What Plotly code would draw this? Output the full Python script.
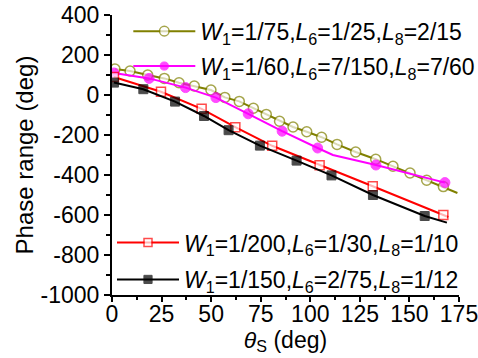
import plotly.graph_objects as go

# Olive: W1=1/75, L6=1/25, L8=2/15 (open circles); last point = line end without marker
olive_x = [1.5, 9.1, 18.0, 26.4, 33.8, 41.5, 49.9, 56.9, 64.2, 71.3, 77.8, 84.5, 91.3, 98.2,
           105.7, 113.5, 122.9, 133.0, 141.7, 150.3, 158.7, 167.1, 174.2]
olive_y = [130, 120, 100, 83, 61, 45, 25, -12, -32, -66, -97, -131, -160, -184,
           -211, -247, -285, -321, -356, -390, -426, -458, -490]
olive_m = [1]*22 + [0]

# Magenta: W1=1/60, L6=7/150, L8=7/60 (filled circles)
mag_x = [1.0, 18.7, 37.1, 52.4, 68.7, 85.8, 103.7, 111.4, 133.1, 150.3, 167.9]
mag_y = [110, 83, 37, -13, -94, -181, -265, -300, -350, -395, -438]
mag_m = [1, 1, 1, 1, 1, 1, 1, 0, 1, 0, 1]

# Red: W1=1/200, L6=1/30, L8=1/10 (open squares)
red_x = [1.0, 24.7, 45.2, 62.2, 80.8, 104.7, 131.5, 167.1, 169.6]
red_y = [90, 16, -69, -161, -254, -351, -456, -600, -610]
red_m = [1, 1, 1, 1, 1, 1, 1, 1, 0]

# Black: W1=1/150, L6=2/75, L8=1/12 (filled squares)
blk_x = [1.0, 15.8, 31.8, 46.4, 58.8, 74.6, 93.1, 110.7, 131.6, 157.7, 168.9]
blk_y = [62, 29, -33, -105, -176, -253, -328, -402, -500, -605, -638]
blk_m = [1, 1, 1, 1, 1, 1, 1, 1, 1, 1, 0]

x_ticks = [0, 25, 50, 75, 100, 125, 150, 175]
y_ticks = [-1000, -800, -600, -400, -200, 0, 200, 400]
y_ticktext = ["-1000", "-800", "-600", "-400", "-200", "0", "200", "400"]

names = [
    "<i>W</i><sub>1</sub>=1/75,<i>L</i><sub>6</sub>=1/25,<i>L</i><sub>8</sub>=2/15",
    "<i>W</i><sub>1</sub>=1/60,<i>L</i><sub>6</sub>=7/150,<i>L</i><sub>8</sub>=7/60",
    "<i>W</i><sub>1</sub>=1/200,<i>L</i><sub>6</sub>=1/30,<i>L</i><sub>8</sub>=1/10",
    "<i>W</i><sub>1</sub>=1/150,<i>L</i><sub>6</sub>=2/75,<i>L</i><sub>8</sub>=1/12",
]

FONT = "Liberation Sans, Arial, sans-serif"
MS = 10

fig = go.Figure()
fig.add_trace(go.Scatter(x=olive_x, y=olive_y, mode="lines+markers", name=names[0],
                         line=dict(color="#808000", width=2), legendgroup="a",
                         marker=dict(symbol="circle", size=[MS * m for m in olive_m], color="white",
                                     line=dict(color="#808000", width=1.5)),
                         legend="legend"))
fig.add_trace(go.Scatter(x=mag_x, y=mag_y, mode="lines+markers", name=names[1],
                         line=dict(color="#ff00ff", width=2), legendgroup="b",
                         marker=dict(symbol="circle", size=[MS * m for m in mag_m], color="#ff00ff",
                                     line=dict(color="#ff00ff", width=1)),
                         legend="legend"))
fig.add_trace(go.Scatter(x=red_x, y=red_y, mode="lines+markers", name=names[2],
                         line=dict(color="#ff0000", width=2), legendgroup="c",
                         marker=dict(symbol="square", size=[9 * m for m in red_m], color="white",
                                     line=dict(color="#ff0000", width=1.5)),
                         legend="legend2"))
fig.add_trace(go.Scatter(x=blk_x, y=blk_y, mode="lines+markers", name=names[3],
                         line=dict(color="#000000", width=2), legendgroup="d",
                         marker=dict(symbol="square", size=[9 * m for m in blk_m], color="#000000",
                                     line=dict(color="#000000", width=1)),
                         legend="legend2"))

fig.update_layout(
    width=478, height=358,
    margin=dict(l=112, r=19, t=15, b=63, autoexpand=False),
    plot_bgcolor="white", paper_bgcolor="white",
    font=dict(family=FONT, size=23, color="black"),
    legend=dict(x=0.047, y=1.019, xanchor="left", yanchor="top", bgcolor="rgba(0,0,0,0)",
                itemwidth=62, font=dict(size=23), tracegroupgap=2),
    legend2=dict(x=0.0, y=0.264, xanchor="left", yanchor="top", bgcolor="rgba(0,0,0,0)",
                 itemwidth=62, font=dict(size=23), tracegroupgap=4),
)
fig.update_xaxes(range=[0, 175], tickvals=x_ticks,
                 showgrid=False, zeroline=False, showline=True, linecolor="black", linewidth=2,
                 ticks="outside", ticklen=5, tickwidth=2, tickcolor="black",
                 minor=dict(dtick=12.5, ticks="outside", ticklen=3, tickwidth=1.5, tickcolor="black"),
                 title=dict(text="<i>θ</i><sub>S</sub> (deg)", standoff=4, font=dict(size=23)),
                 ticklabelstandoff=-8, ticklabeloverflow="allow",
                 tickfont=dict(size=23), automargin=False)
fig.update_yaxes(range=[-1000, 400], tickvals=y_ticks, ticktext=y_ticktext,
                 showgrid=False, zeroline=False, showline=True, linecolor="black", linewidth=2,
                 ticks="outside", ticklen=6, tickwidth=2, tickcolor="black",
                 minor=dict(dtick=100, ticks="outside", ticklen=4, tickwidth=1.5, tickcolor="black"),
                 title=dict(text="Phase range (deg)", standoff=0, font=dict(size=24)),
                 ticklabeloverflow="allow",
                 tickfont=dict(size=23), automargin=False)

# remove the default 8px page margin so the 478x358 figure sits at the window origin
fig.write_html("out.html", config={"displayModeBar": False},
               post_script="document.body.style.margin='0';")
